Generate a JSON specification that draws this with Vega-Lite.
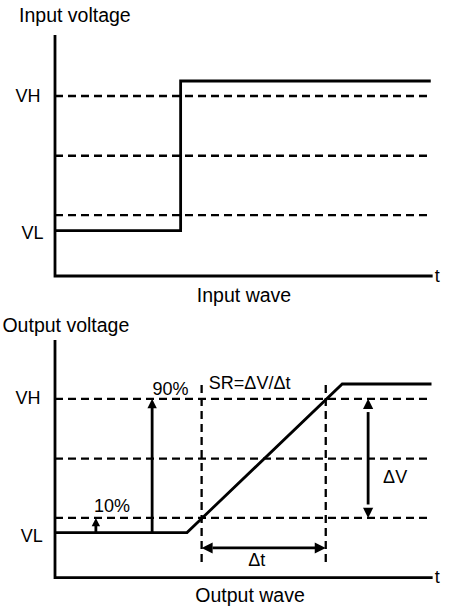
{
  "$schema": "https://vega.github.io/schema/vega-lite/v6.json",
  "padding": 0,
  "spacing": 0,
  "bounds": "flush",
  "background": "white",
  "config": {"view": {"stroke": null}, "font": "Liberation Sans"},
  "datasets": {
    "top_paths": [
      {"id": "axis", "seq": 1, "x": 0, "y": 100.4},
      {"id": "axis", "seq": 2, "x": 0, "y": 0},
      {"id": "axis", "seq": 3, "x": 100.7, "y": 0},
      {"id": "wave", "seq": 1, "x": 0, "y": 18.9},
      {"id": "wave", "seq": 2, "x": 33.5, "y": 18.9},
      {"id": "wave", "seq": 3, "x": 33.5, "y": 81.25},
      {"id": "wave", "seq": 4, "x": 100.2, "y": 81.25}
    ],
    "top_dashes": [
      {"x": 0, "x2": 99.5, "y": 75, "y2": 75},
      {"x": 0, "x2": 99.5, "y": 50.1, "y2": 50.1},
      {"x": 0, "x2": 99.5, "y": 25.4, "y2": 25.4}
    ],
    "top_text": [
      {"role": "title", "label": "Input voltage", "x": 5.3, "y": 108.3},
      {"role": "title", "label": "Input wave", "x": 50.4, "y": -8.5},
      {"role": "label", "label": "VH", "x": -7.2, "y": 74.4},
      {"role": "label", "label": "VL", "x": -6, "y": 17.4},
      {"role": "label", "label": "t", "x": 101.9, "y": -0.4}
    ],
    "bot_paths": [
      {"id": "axis", "seq": 1, "x": 0, "y": 99},
      {"id": "axis", "seq": 2, "x": 0, "y": 0},
      {"id": "axis", "seq": 3, "x": 100.7, "y": 0},
      {"id": "wave", "seq": 1, "x": 0, "y": 18.8},
      {"id": "wave", "seq": 2, "x": 35.2, "y": 18.8},
      {"id": "wave", "seq": 3, "x": 76.6, "y": 80.7},
      {"id": "wave", "seq": 4, "x": 100.4, "y": 80.7},
      {"id": "a10", "seq": 1, "x": 10.9, "y": 18.8},
      {"id": "a10", "seq": 2, "x": 10.9, "y": 22},
      {"id": "a90", "seq": 1, "x": 25.9, "y": 18.8},
      {"id": "a90", "seq": 2, "x": 25.9, "y": 71},
      {"id": "dV", "seq": 1, "x": 83.5, "y": 69},
      {"id": "dV", "seq": 2, "x": 83.5, "y": 30.5},
      {"id": "dt", "seq": 1, "x": 42, "y": 12.4},
      {"id": "dt", "seq": 2, "x": 69.5, "y": 12.4}
    ],
    "bot_dashes": [
      {"x": 0, "x2": 99.5, "y": 74.5, "y2": 74.5},
      {"x": 0, "x2": 99.5, "y": 49.6, "y2": 49.6},
      {"x": 0, "x2": 99.5, "y": 24.9, "y2": 24.9},
      {"x": 39.1, "x2": 39.1, "y": 80.3, "y2": 5.2},
      {"x": 72.2, "x2": 72.2, "y": 80.3, "y2": 5.2}
    ],
    "bot_heads": [
      {"arrow": "10%", "dir": "up", "x": 10.9, "y": 24.9},
      {"arrow": "90%", "dir": "up", "x": 25.9, "y": 74.5},
      {"arrow": "ΔV", "dir": "up", "x": 83.5, "y": 74.5},
      {"arrow": "ΔV", "dir": "down", "x": 83.5, "y": 24.9},
      {"arrow": "Δt", "dir": "left", "x": 39.1, "y": 12.4},
      {"arrow": "Δt", "dir": "right", "x": 72.2, "y": 12.4}
    ],
    "bot_text": [
      {"role": "title", "label": "Output voltage", "x": 2.9, "y": 104.9},
      {"role": "title", "label": "Output wave", "x": 52, "y": -7.6},
      {"role": "label", "label": "VH", "x": -7.2, "y": 74.4},
      {"role": "label", "label": "VL", "x": -6.2, "y": 17.1},
      {"role": "label", "label": "t", "x": 101.9, "y": 0},
      {"role": "label", "label": "10%", "x": 15.2, "y": 29.5},
      {"role": "label", "label": "90%", "x": 30.8, "y": 78.2},
      {"role": "label", "label": "SR=ΔV/Δt", "x": 51.9, "y": 80.6},
      {"role": "label", "label": "ΔV", "x": 90.7, "y": 41.4},
      {"role": "label", "label": "Δt", "x": 53.8, "y": 7.0}
    ]
  },
  "vconcat": [
    {
      "width": 451,
      "height": 305,
      "encoding": {
        "x": {"field": "x", "type": "quantitative", "scale": {"domain": [-14.667, 105.6], "nice": false, "zero": false}, "axis": null},
        "y": {"field": "y", "type": "quantitative", "scale": {"domain": [-12.083, 115], "nice": false, "zero": false}, "axis": null}
      },
      "layer": [
        {
          "data": {"name": "top_dashes"},
          "mark": {"type": "rule", "color": "black", "strokeWidth": 2.3, "strokeDash": [8, 5]},
          "encoding": {"x2": {"field": "x2"}, "y2": {"field": "y2"}}
        },
        {
          "data": {"name": "top_paths"},
          "mark": {"type": "line", "color": "black", "strokeWidth": 2.8, "strokeJoin": "miter"},
          "encoding": {"detail": {"field": "id"}, "order": {"field": "seq", "type": "quantitative"}}
        },
        {
          "data": {"name": "top_text"},
          "transform": [{"filter": "datum.role == 'title'"}],
          "mark": {"type": "text", "fontSize": 19.5, "align": "center", "baseline": "middle", "color": "black"},
          "encoding": {"text": {"field": "label"}}
        },
        {
          "data": {"name": "top_text"},
          "transform": [{"filter": "datum.role == 'label'"}],
          "mark": {"type": "text", "fontSize": 18, "align": "center", "baseline": "middle", "color": "black"},
          "encoding": {"text": {"field": "label"}}
        }
      ]
    },
    {
      "width": 451,
      "height": 305,
      "encoding": {
        "x": {"field": "x", "type": "quantitative", "scale": {"domain": [-14.667, 105.6], "nice": false, "zero": false}, "axis": null},
        "y": {"field": "y", "type": "quantitative", "scale": {"domain": [-13.46, 113.6], "nice": false, "zero": false}, "axis": null}
      },
      "layer": [
        {
          "data": {"name": "bot_dashes"},
          "mark": {"type": "rule", "color": "black", "strokeWidth": 2.3, "strokeDash": [8, 5]},
          "encoding": {"x2": {"field": "x2"}, "y2": {"field": "y2"}}
        },
        {
          "data": {"name": "bot_paths"},
          "mark": {"type": "line", "color": "black", "strokeWidth": 2.8, "strokeJoin": "miter"},
          "encoding": {"detail": {"field": "id"}, "order": {"field": "seq", "type": "quantitative"}}
        },
        {
          "data": {"name": "bot_heads"},
          "mark": {"type": "point", "filled": true, "color": "black", "opacity": 1},
          "encoding": {
            "shape": {"field": "dir", "type": "nominal", "scale": {"domain": ["up", "down", "left", "right"], "range": ["M0,0L-1,2L1,2Z", "M0,0L-1,-2L1,-2Z", "M0,0L2,-1L2,1Z", "M0,0L-2,-1L-2,1Z"]}, "legend": null},
            "size": {"field": "arrow", "type": "nominal", "scale": {"domain": ["10%", "90%", "ΔV", "Δt"], "range": [70, 121, 196, 196]}, "legend": null}
          }
        },
        {
          "data": {"name": "bot_text"},
          "transform": [{"filter": "datum.role == 'title'"}],
          "mark": {"type": "text", "fontSize": 19.5, "align": "center", "baseline": "middle", "color": "black"},
          "encoding": {"text": {"field": "label"}}
        },
        {
          "data": {"name": "bot_text"},
          "transform": [{"filter": "datum.role == 'label'"}],
          "mark": {"type": "text", "fontSize": 18, "align": "center", "baseline": "middle", "color": "black"},
          "encoding": {"text": {"field": "label"}}
        }
      ]
    }
  ]
}
